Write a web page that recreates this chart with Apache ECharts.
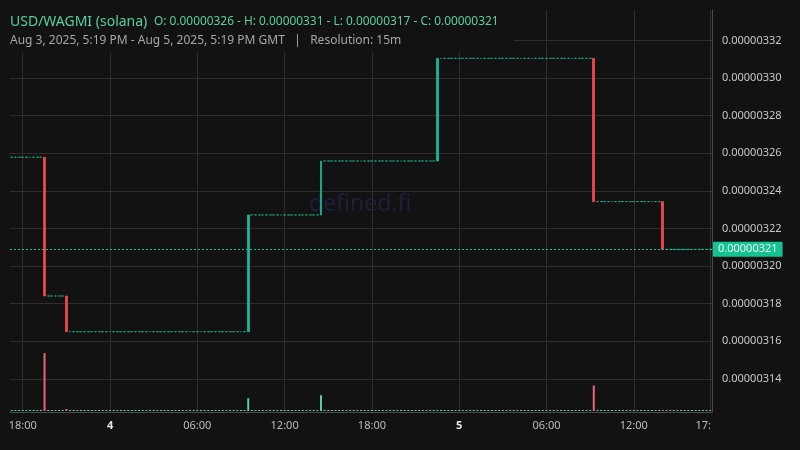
<!DOCTYPE html>
<html><head><meta charset="utf-8">
<script src="https://cdn.jsdelivr.net/npm/echarts@6/dist/echarts.min.js"></script>
<style>html,body{margin:0;background:#121212}#c{width:800px;height:450px}</style>
</head><body><div id="c"></div>
<script>
// ---- data ----
const startTimeUTC = Date.UTC(2025, 7, 3, 17, 15); // first 15m candle
const slotCount = 193;
const slotMinutes = 15;
const startPrice = 0.0000032579;
// candles that moved (index into 15m slots); all others are flat at the previous close
const moveIndex = [9, 15, 65, 85, 117, 160, 179];
const moveOpen  = [0.0000032579, 0.0000031841, 0.0000031651, 0.0000032272, 0.0000032559, 0.0000033105, 0.0000032343];
const moveClose = [0.0000031841, 0.0000031651, 0.0000032272, 0.0000032559, 0.0000033105, 0.0000032343, 0.0000032089];
// volume (arbitrary units), only non-zero slots
const volIndex = [9, 15, 65, 85, 117, 160, 179];
const volValue = [2900, 100, 640, 790, 15, 1280, 15];
const volMax = 4000;
const subtitleText = 'Aug 3, 2025, 5:19 PM - Aug 5, 2025, 5:19 PM GMT   |   Resolution: 15m';
const pairName = 'USD/WAGMI (solana)';

const GREEN = '#17b897', RED = '#f2464e';
const VGREEN = '#5fcaa8', VRED = '#e8647c';

// ---- build ----
const categories = [];
const ohlc = [];
const vols = [];
let level = startPrice;
for (let i = 0; i < slotCount; i++) {
  const t = new Date(startTimeUTC + i * slotMinutes * 60000);
  categories.push(t.toISOString().slice(0, 16).replace('T', ' '));
  const k = moveIndex.indexOf(i);
  let o, c;
  if (k >= 0) { o = moveOpen[k]; c = moveClose[k]; }
  else { o = level; c = level; }
  level = c;
  ohlc.push([o, c, Math.min(o, c), Math.max(o, c)]);
  const vk = volIndex.indexOf(i);
  vols.push({ value: vk >= 0 ? volValue[vk] : 0, itemStyle: { color: c < o ? VRED : VGREEN } });
}
const allLows = ohlc.map(d => d[2]), allHighs = ohlc.map(d => d[3]);
const O = ohlc[0][0], H = Math.max(...allHighs), L = Math.min(...allLows), C = ohlc[ohlc.length - 1][1];
const f8 = v => v.toFixed(8);

function isTick(i) {
  const t = new Date(startTimeUTC + i * slotMinutes * 60000);
  return (t.getUTCMinutes() === 0 && t.getUTCHours() % 6 === 0) || i === slotCount - 1;
}
function tickLabel(value, index) {
  const t = new Date(startTimeUTC + index * slotMinutes * 60000);
  const hh = String(t.getUTCHours()).padStart(2, '0'), mm = String(t.getUTCMinutes()).padStart(2, '0');
  if (index === slotCount - 1) return '{e|' + (hh + ':' + mm).slice(0, 3) + '}'; // clipped at the plot edge in the reference
  if (t.getUTCHours() === 0) return '{d|' + t.getUTCDate() + '}';
  return hh + ':' + mm;
}

const chart = echarts.init(document.getElementById('c'), null, { renderer: 'canvas' });
chart.setOption({
  backgroundColor: '#121212',
  animation: false,
  textStyle: { fontFamily: 'Noto Sans' },
  title: {
    left: 10, top: 13, z: 8, padding: 0,
    text: '{a|' + pairName + '} {b|O: ' + f8(O) + ' - H: ' + f8(H) + ' - L: ' + f8(L) + ' - C: ' + f8(C) + '}',
    textStyle: {
      fontWeight: 'normal',
      rich: {
        a: { fontSize: 14, color: '#55cfa3', fontFamily: 'Noto Sans', fontWeight: 'normal', padding: [0, 2, 0, 0] },
        b: { fontSize: 11.9, color: '#55cfa3', fontFamily: 'Noto Sans', fontWeight: 'normal' }
      }
    },
    subtext: subtitleText,
    subtextStyle: { fontSize: 12, color: '#a6a6a6', fontFamily: 'Noto Sans' },
    itemGap: 4
  },
  graphic: [
    { type: 'rect', z: 5, silent: true, shape: { x: 0, y: 0, width: 514, height: 53 }, style: { fill: '#121212' } },
    { type: 'text', z: 1, silent: true, left: 309, top: 193,
      style: { text: 'defined.fi', fill: '#1f1f3a', font: '23px "Noto Sans"' } }
  ],
  grid: [
    { left: 10, right: 88, top: 10, bottom: 38 },
    { left: 10, right: 88, top: 331, bottom: 39 }
  ],
  xAxis: [
    {
      type: 'category', gridIndex: 0, data: categories, boundaryGap: true,
      axisLine: { show: true, lineStyle: { color: '#4a4a4a' } },
      axisTick: { show: false, alignWithLabel: true },
      axisLabel: {
        interval: (i) => isTick(i), formatter: tickLabel, color: '#bdbdbd', fontSize: 11, margin: 8,
        rich: {
          d: { fontWeight: 'bold', color: '#e6e6e6', fontSize: 11 },
          e: { color: '#bdbdbd', fontSize: 11, padding: [0, 14, 0, 0] }
        }
      },
      splitLine: { show: true, alignWithLabel: true, interval: (i) => isTick(i), lineStyle: { color: '#2e2e2e' } }
    },
    { type: 'category', gridIndex: 1, data: categories, boundaryGap: true, show: false }
  ],
  yAxis: [
    {
      type: 'value', gridIndex: 0, position: 'right', scale: true,
      min: 0.0000031224, max: 0.0000033362, splitNumber: 10, minInterval: 0.00000002, maxInterval: 0.00000002,
      axisLine: { show: true, lineStyle: { color: '#4a4a4a' } },
      axisTick: { show: false },
      axisLabel: { showMinLabel: false, showMaxLabel: false, color: '#c8c8c8', fontSize: 11, margin: 10, formatter: v => f8(v) },
      splitLine: { show: true, showMinLine: false, showMaxLine: false, lineStyle: { color: '#2e2e2e' } }
    },
    { type: 'value', gridIndex: 1, min: 0, max: volMax, show: false, splitLine: { show: false } }
  ],
  series: [
    {
      type: 'bar', name: 'Volume', xAxisIndex: 1, yAxisIndex: 1, data: vols,
      barWidth: 2, barMinHeight: 1, z: 1, silent: true
    },
    {
      type: 'candlestick', name: 'Price', xAxisIndex: 0, yAxisIndex: 0, data: ohlc,
      barWidth: 2.4, z: 3,
      itemStyle: { color: GREEN, color0: RED, borderColor: GREEN, borderColor0: RED, borderColorDoji: GREEN, borderWidth: 0.8 },
      markLine: {
        silent: true, symbol: ['none', 'none'], precision: 14,
        lineStyle: { color: GREEN, type: [2, 2], width: 1 },
        label: {
          show: true, position: 'end', distance: 1, formatter: () => f8(C), color: '#f4f4f4', fontSize: 11,
          backgroundColor: '#12c491', padding: [2, 5, 2, 5], borderRadius: 1
        },
        data: [{ yAxis: C }]
      }
    }
  ]
});
</script></body></html>
